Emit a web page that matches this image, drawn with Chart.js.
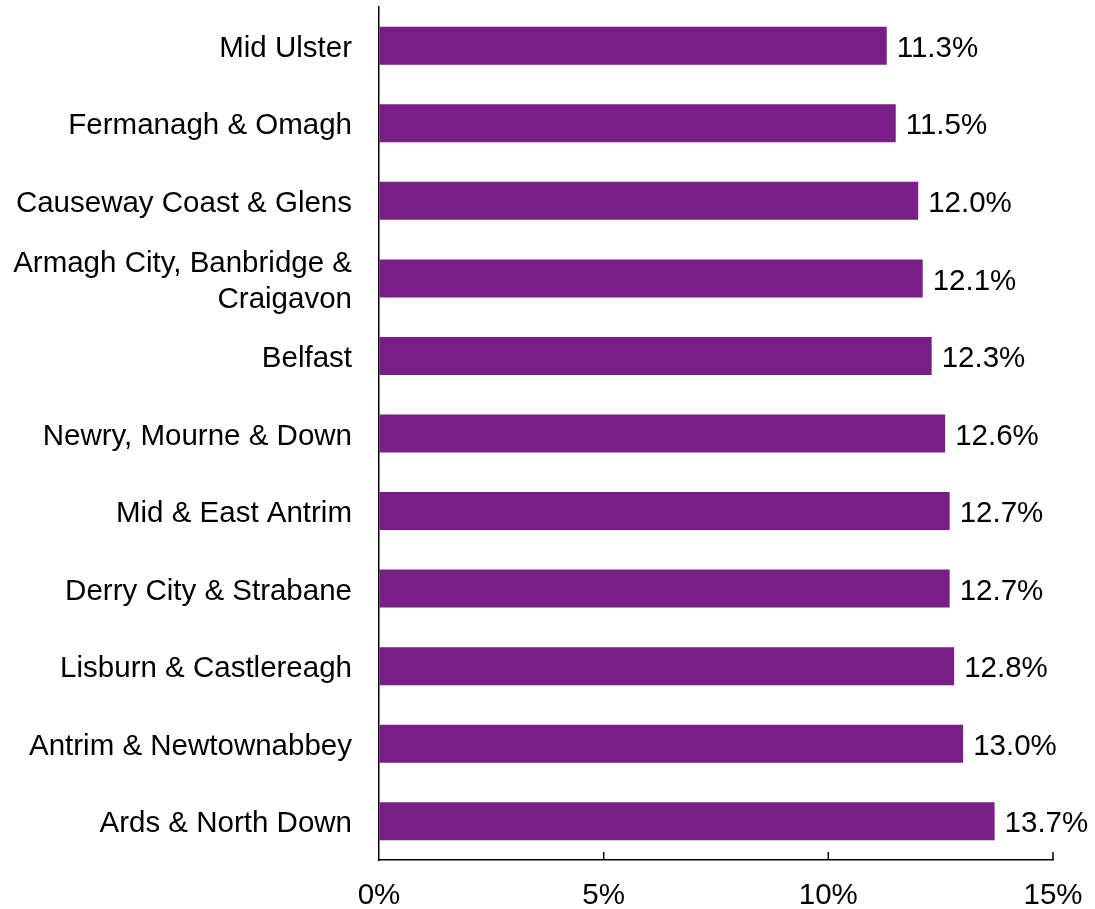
<!DOCTYPE html>
<html>
<head>
<meta charset="utf-8">
<script src="https://cdn.jsdelivr.net/npm/chart.js@4"></script>
<style>
html,body{margin:0;padding:0;background:#fff;}
#wrap{width:1095px;height:909px;position:relative;}
</style>
</head>
<body>
<div id="wrap"><canvas id="c" width="1095" height="909"></canvas></div>
<script>
const categories = [
  "Mid Ulster",
  "Fermanagh & Omagh",
  "Causeway Coast & Glens",
  ["Armagh City, Banbridge &", "Craigavon"],
  "Belfast",
  "Newry, Mourne & Down",
  "Mid & East Antrim",
  "Derry City & Strabane",
  "Lisburn & Castlereagh",
  "Antrim & Newtownabbey",
  "Ards & North Down"
];
const values = [11.3, 11.5, 12.0, 12.1, 12.3, 12.6, 12.7, 12.7, 12.8, 13.0, 13.7];
const xTicks = [0, 5, 10, 15];

const FONT = "'Liberation Sans', Arial, sans-serif";
const barColor = "#7A1E87";

const valueLabels = {
  id: 'valueLabels',
  afterDatasetsDraw(chart) {
    const ctx = chart.ctx;
    const meta = chart.getDatasetMeta(0);
    ctx.save();
    ctx.font = "29.5px " + FONT;
    ctx.fillStyle = "#000";
    ctx.textAlign = "left";
    ctx.textBaseline = "middle";
    meta.data.forEach((el, i) => {
      ctx.fillText(values[i].toFixed(1) + "%", el.x + 10, el.y + 3);
    });
    ctx.restore();
  }
};

const innerTicks = {
  id: 'innerTicks',
  afterDraw(chart) {
    const ctx = chart.ctx;
    const xs = chart.scales.x;
    const bottom = chart.chartArea.bottom;
    ctx.save();
    ctx.strokeStyle = "#000";
    ctx.lineWidth = 1.5;
    xs.ticks.forEach((t) => {
      if (t.value === 0) return;
      const px = xs.getPixelForValue(t.value);
      ctx.beginPath();
      ctx.moveTo(px, bottom);
      ctx.lineTo(px, bottom - 8);
      ctx.stroke();
    });
    ctx.restore();
  }
};

new Chart(document.getElementById('c'), {
  type: 'bar',
  data: {
    labels: categories,
    datasets: [{
      data: values,
      backgroundColor: barColor,
      borderWidth: 0,
      barPercentage: 0.49,
      categoryPercentage: 1.0
    }]
  },
  options: {
    indexAxis: 'y',
    responsive: false,
    animation: false,
    devicePixelRatio: 1,
    layout: { padding: { top: 7, right: 42, left: 0, bottom: 0 } },
    plugins: { legend: { display: false }, tooltip: { enabled: false } },
    scales: {
      x: {
        min: 0, max: 15,
        afterBuildTicks(scale) { scale.ticks = xTicks.map(v => ({ value: v })); },
        afterFit(scale) { scale.height = 49; scale.paddingLeft = 0; scale.paddingRight = 0; },
        grid: { drawOnChartArea: false, drawTicks: false },
        border: { color: "#000", width: 1.5 },
        ticks: {
          padding: 18,
          color: "#000",
          font: { family: FONT, size: 29.5 },
          maxRotation: 0,
          callback: (v) => v + "%"
        }
      },
      y: {
        afterFit(scale) { scale.width = 379; scale.paddingTop = 0; scale.paddingBottom = 0; },
        grid: { drawOnChartArea: false, drawTicks: false },
        border: { color: "#000", width: 1.5 },
        ticks: {
          padding: 27,
          labelOffset: 3,
          color: "#000",
          font: { family: FONT, size: 29.5, lineHeight: 1.22 }
        }
      }
    }
  },
  plugins: [valueLabels, innerTicks]
});
</script>
</body>
</html>
